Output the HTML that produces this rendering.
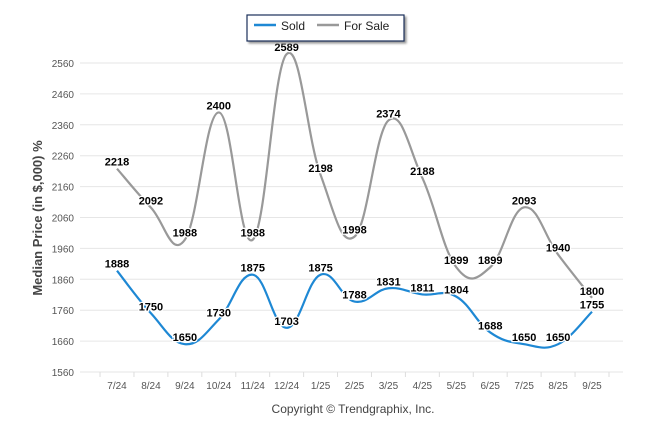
<!DOCTYPE html>
<html><head><meta charset="utf-8"><style>
body{margin:0;background:#fff;}
svg{display:block;font-family:"Liberation Sans",Arial,sans-serif;}
</style></head><body>
<svg id="chart" width="646" height="434" viewBox="0 0 646 434">
<g id="grid"></g>
<g id="xaxis"></g>
<g id="series"></g>
<g id="labels"></g>
<text x="42" y="218" transform="rotate(-90 42 218)" text-anchor="middle" font-size="13" font-weight="bold" fill="#444">Median Price (in $,000) %</text>
<text x="353" y="413" text-anchor="middle" font-size="12" fill="#444">Copyright © Trendgraphix, Inc.</text>
<g>
<rect x="247" y="15" width="157" height="26" fill="#fff" stroke="#1a2f5a" stroke-width="1.2" style="filter:drop-shadow(2px 2px 1px #999)"/>
<g><line x1="254" y1="25" x2="276" y2="25" stroke="#1e88d4" stroke-width="2.5"/><text x="281" y="30" font-size="12" fill="#222">Sold</text></g>
<g><line x1="317" y1="25" x2="339" y2="25" stroke="#999" stroke-width="2.5"/><text x="344" y="30" font-size="12" fill="#222">For Sale</text></g>
</g>
</svg>
<script>
const categories=["7/24","8/24","9/24","10/24","11/24","12/24","1/25","2/25","3/25","4/25","5/25","6/25","7/25","8/25","9/25"];
const soldValues=[1888,1750,1650,1730,1875,1703,1875,1788,1831,1811,1804,1688,1650,1650,1755];
const forSaleValues=[2218,2092,1988,2400,1988,2589,2198,1998,2374,2188,1899,1899,2093,1940,1800];
const yTicks=[1560,1660,1760,1860,1960,2060,2160,2260,2360,2460,2560];
const NS="http://www.w3.org/2000/svg";
const yMin=1560,yMax=2560,yTop=63,yBot=372;
const x0=117,dx=33.93;
function X(i){return x0+i*dx;}
function Y(v){return yBot-(v-yMin)/(yMax-yMin)*(yBot-yTop);}
function mk(tag,attrs,parent){const e=document.createElementNS(NS,tag);for(const k in attrs)e.setAttribute(k,attrs[k]);parent.appendChild(e);return e;}
const grid=document.getElementById('grid');
yTicks.forEach(t=>{
 const l=mk('line',{x1:80,x2:623,y1:Y(t),y2:Y(t),stroke:'#e6e6e6','stroke-width':1},grid);
 
 
 const tx=mk('text',{x:74,y:Y(t)+4,'text-anchor':'end','font-size':10,fill:'#555'},grid);
 tx.textContent=t;
 
 
});
const xa=document.getElementById('xaxis');
for(let i=0;i<=categories.length;i++){
 const tk=mk('line',{x1:X(i)-dx/2,x2:X(i)-dx/2,y1:yBot,y2:yBot+5,stroke:'#ddd'},xa);
 
 
}
categories.forEach((c,i)=>{
 const t=mk('text',{x:X(i),y:389,'text-anchor':'middle','font-size':10,fill:'#555'},xa);
 t.textContent=c;
 
 
});
function path(vals){
 const p=vals.map((v,i)=>[X(i),Y(v)]);
 let d=`M${p[0][0]},${p[0][1]}`;
 for(let i=0;i<p.length-1;i++){
  const a=p[Math.max(0,i-1)],b=p[i],c=p[i+1],e=p[Math.min(p.length-1,i+2)];
  const k=1/5;
  d+=` C${b[0]+(c[0]-a[0])*k},${b[1]+(c[1]-a[1])*k} ${c[0]-(e[0]-b[0])*k},${c[1]-(e[1]-b[1])*k} ${c[0]},${c[1]}`;
 }
 return d;
}
const sg=document.getElementById('series');
const fs=mk('path',{d:path(forSaleValues),fill:'none',stroke:'#999','stroke-width':2.2},sg);


const sl=mk('path',{d:path(soldValues),fill:'none',stroke:'#1e88d4','stroke-width':2.2},sg);


const lg=document.getElementById('labels');
[[forSaleValues,'for-sale-label'],[soldValues,'sold-label']].forEach(([vals,name])=>{
 vals.forEach((v,i)=>{
  const t=mk('text',{x:X(i),y:Y(v)-3,'text-anchor':'middle','font-size':11,'font-weight':'bold',fill:'#000',stroke:'#fff','stroke-width':2.5,'paint-order':'stroke'},lg);
  t.textContent=v;
  
  
 });
});
</script>
</body></html>
